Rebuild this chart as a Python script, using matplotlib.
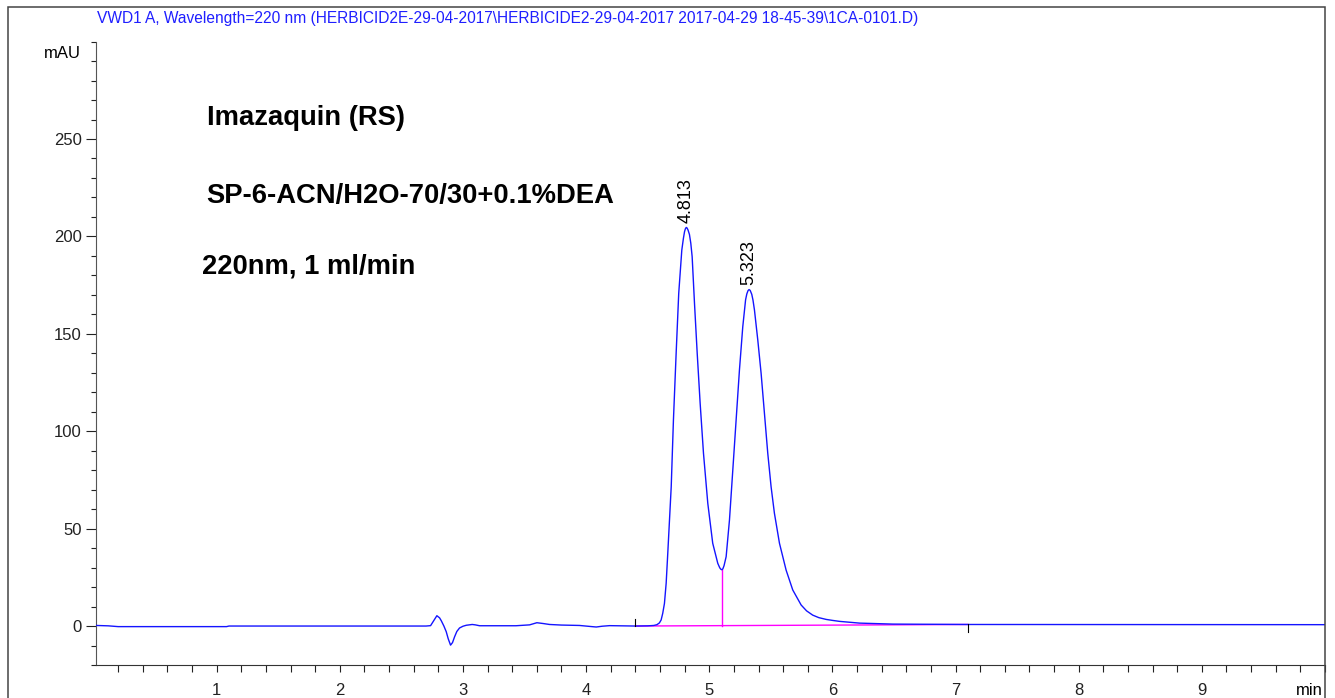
import matplotlib
matplotlib.use('Agg')
from matplotlib import pyplot as plt
from matplotlib.ticker import MultipleLocator
from matplotlib.patches import Rectangle

# chromatogram trace (min, mAU)
time_min = [0.02, 0.12, 0.20, 1.08, 1.10, 2.70, 2.737, 2.76, 2.788, 2.81,
            2.824, 2.845, 2.864, 2.88, 2.899, 2.915, 2.932, 2.95, 2.972, 3.0,
            3.027, 3.075, 3.10, 3.135, 3.43, 3.541, 3.60, 3.65, 3.703, 3.80,
            3.946, 4.03, 4.082, 4.13, 4.19, 4.40, 4.50, 4.55, 4.575, 4.595,
            4.609, 4.622, 4.636, 4.650, 4.663, 4.691, 4.709, 4.731, 4.752, 4.777,
            4.790, 4.799, 4.806, 4.813, 4.820, 4.828, 4.839, 4.850, 4.861, 4.880,
            4.902, 4.926, 4.953, 4.988, 5.028, 5.069, 5.085, 5.095, 5.102, 5.110,
            5.120, 5.137, 5.164, 5.191, 5.218, 5.245, 5.272, 5.295, 5.305, 5.315,
            5.323, 5.332, 5.345, 5.355, 5.367, 5.394, 5.421, 5.448, 5.475, 5.502,
            5.529, 5.570, 5.624, 5.678, 5.746, 5.79, 5.840, 5.89, 5.949, 6.0,
            6.057, 6.22, 6.49, 7.10, 10.0]
signal_mau = [0.3, 0.1, -0.3, -0.3, 0.0, 0.0, 0.2, 2.5, 5.3, 4.2,
              2.7, 0.0, -2.9, -6.5, -9.8, -8.5, -5.5, -2.8, -1.0, -0.1,
              0.4, 0.8, 0.6, 0.15, 0.15, 0.6, 1.7, 1.3, 0.8, 0.5,
              0.3, -0.2, -0.5, -0.1, 0.2, 0.0, 0.1, 0.3, 0.7, 1.6,
              3.1, 6.5, 11.6, 22.0, 37.3, 71.5, 105.7, 140.0, 170.8, 193.0,
              199.0, 202.4, 203.9, 204.6, 204.3, 203.2, 201.0, 196.5, 189.6, 165.7,
              140.0, 114.3, 88.7, 63.0, 42.5, 32.2, 29.9, 29.1, 28.9, 29.3,
              31.0, 35.6, 54.4, 80.0, 105.7, 131.4, 153.6, 167.5, 170.5, 172.2,
              172.7, 172.3, 170.3, 167.3, 162.2, 146.8, 129.7, 109.2, 88.7, 71.5,
              57.9, 42.5, 28.7, 18.5, 10.8, 7.8, 5.6, 4.3, 3.4, 2.9,
              2.4, 1.5, 1.0, 0.8, 0.7]

# integration: baseline, drop line and event marks
baseline_t = [4.40, 7.10]
baseline_v = [0.0, 0.8]
drop_t = 5.102
drop_v = [0.2, 28.9]
mark_t = [4.40, 7.10]
mark_lo = [0.0, 0.8]
mark_hi = [3.6, -3.2]

peak_rt = [4.813, 5.323]
peak_height = [204.6, 172.7]

y_major = [0, 50, 100, 150, 200, 250]
x_major = [1, 2, 3, 4, 5, 6, 7, 8, 9]

TITLE = 'VWD1 A, Wavelength=220 nm (HERBICID2E-29-04-2017\\HERBICIDE2-29-04-2017 2017-04-29 18-45-39\\1CA-0101.D)'
NOTES = ['Imazaquin (RS)', 'SP-6-ACN/H2O-70/30+0.1%DEA', '220nm, 1 ml/min']

W, H = 1335, 698

plt.rcParams['font.family'] = ['Liberation Sans', 'DejaVu Sans']
plt.rcParams['font.size'] = 12

fig = plt.figure(figsize=(W / 100, H / 100), dpi=100)
ax = fig.add_axes([96 / W, 33 / H, (1325 - 96) / W, (665 - 41.6) / H])

ax.plot(time_min, signal_mau, color='#1414ff', lw=1.0, zorder=3)
ax.plot(baseline_t, baseline_v, color='#ff00ff', lw=1.0, zorder=2)
ax.plot([drop_t, drop_t], drop_v, color='#ff00ff', lw=1.0, zorder=2)
for t, lo, hi in zip(mark_t, mark_lo, mark_hi):
    ax.plot([t, t], [lo, hi], color='black', lw=0.8, zorder=4)

for rt, h in zip(peak_rt, peak_height):
    ax.annotate('%.3f' % rt, (rt, h), xytext=(0, 3), textcoords='offset points',
                rotation=90, ha='center', va='bottom', fontsize=13)

ax.set_xlim(0.02, 10.0)
ax.set_ylim(-20, 300)
ax.set_xticks(x_major)
ax.xaxis.set_minor_locator(MultipleLocator(0.2))
ax.set_yticks(y_major)
ax.yaxis.set_minor_locator(MultipleLocator(10))
ax.tick_params(axis='x', which='both', direction='out', length=5, width=0.8, pad=8, colors='#222')
ax.tick_params(axis='y', which='major', direction='out', length=7.2, width=0.8, pad=3, colors='#222')
ax.tick_params(axis='y', which='minor', direction='out', length=3.6, width=0.8, colors='#222')
for s in ['top', 'right']:
    ax.spines[s].set_visible(False)
ax.spines['left'].set_color('#555')
ax.spines['bottom'].set_color('#333')

# texts
fig.text(97 / W, 1 - 23 / H, TITLE, color='#1f1fff', fontsize=11.2, va='baseline')
fig.text(81 / W, 1 - 58 / H, 'mAU', ha='right', va='baseline')
fig.text(1323 / W, 1 - 695 / H, 'min', ha='right', va='baseline')
for (x, y), s in zip([(207, 125), (206, 203), (202, 273)], NOTES):
    fig.text(x / W, 1 - y / H, s, fontsize=19.7, fontweight='bold', va='baseline')

# page frame
fig.add_artist(Rectangle((8 / W, -0.1), (1325 - 8) / W, (H - 7) / H + 0.1,
                         transform=fig.transFigure, fill=False, ec='#444', lw=1.1))

plt.savefig('out.png', dpi=100)
